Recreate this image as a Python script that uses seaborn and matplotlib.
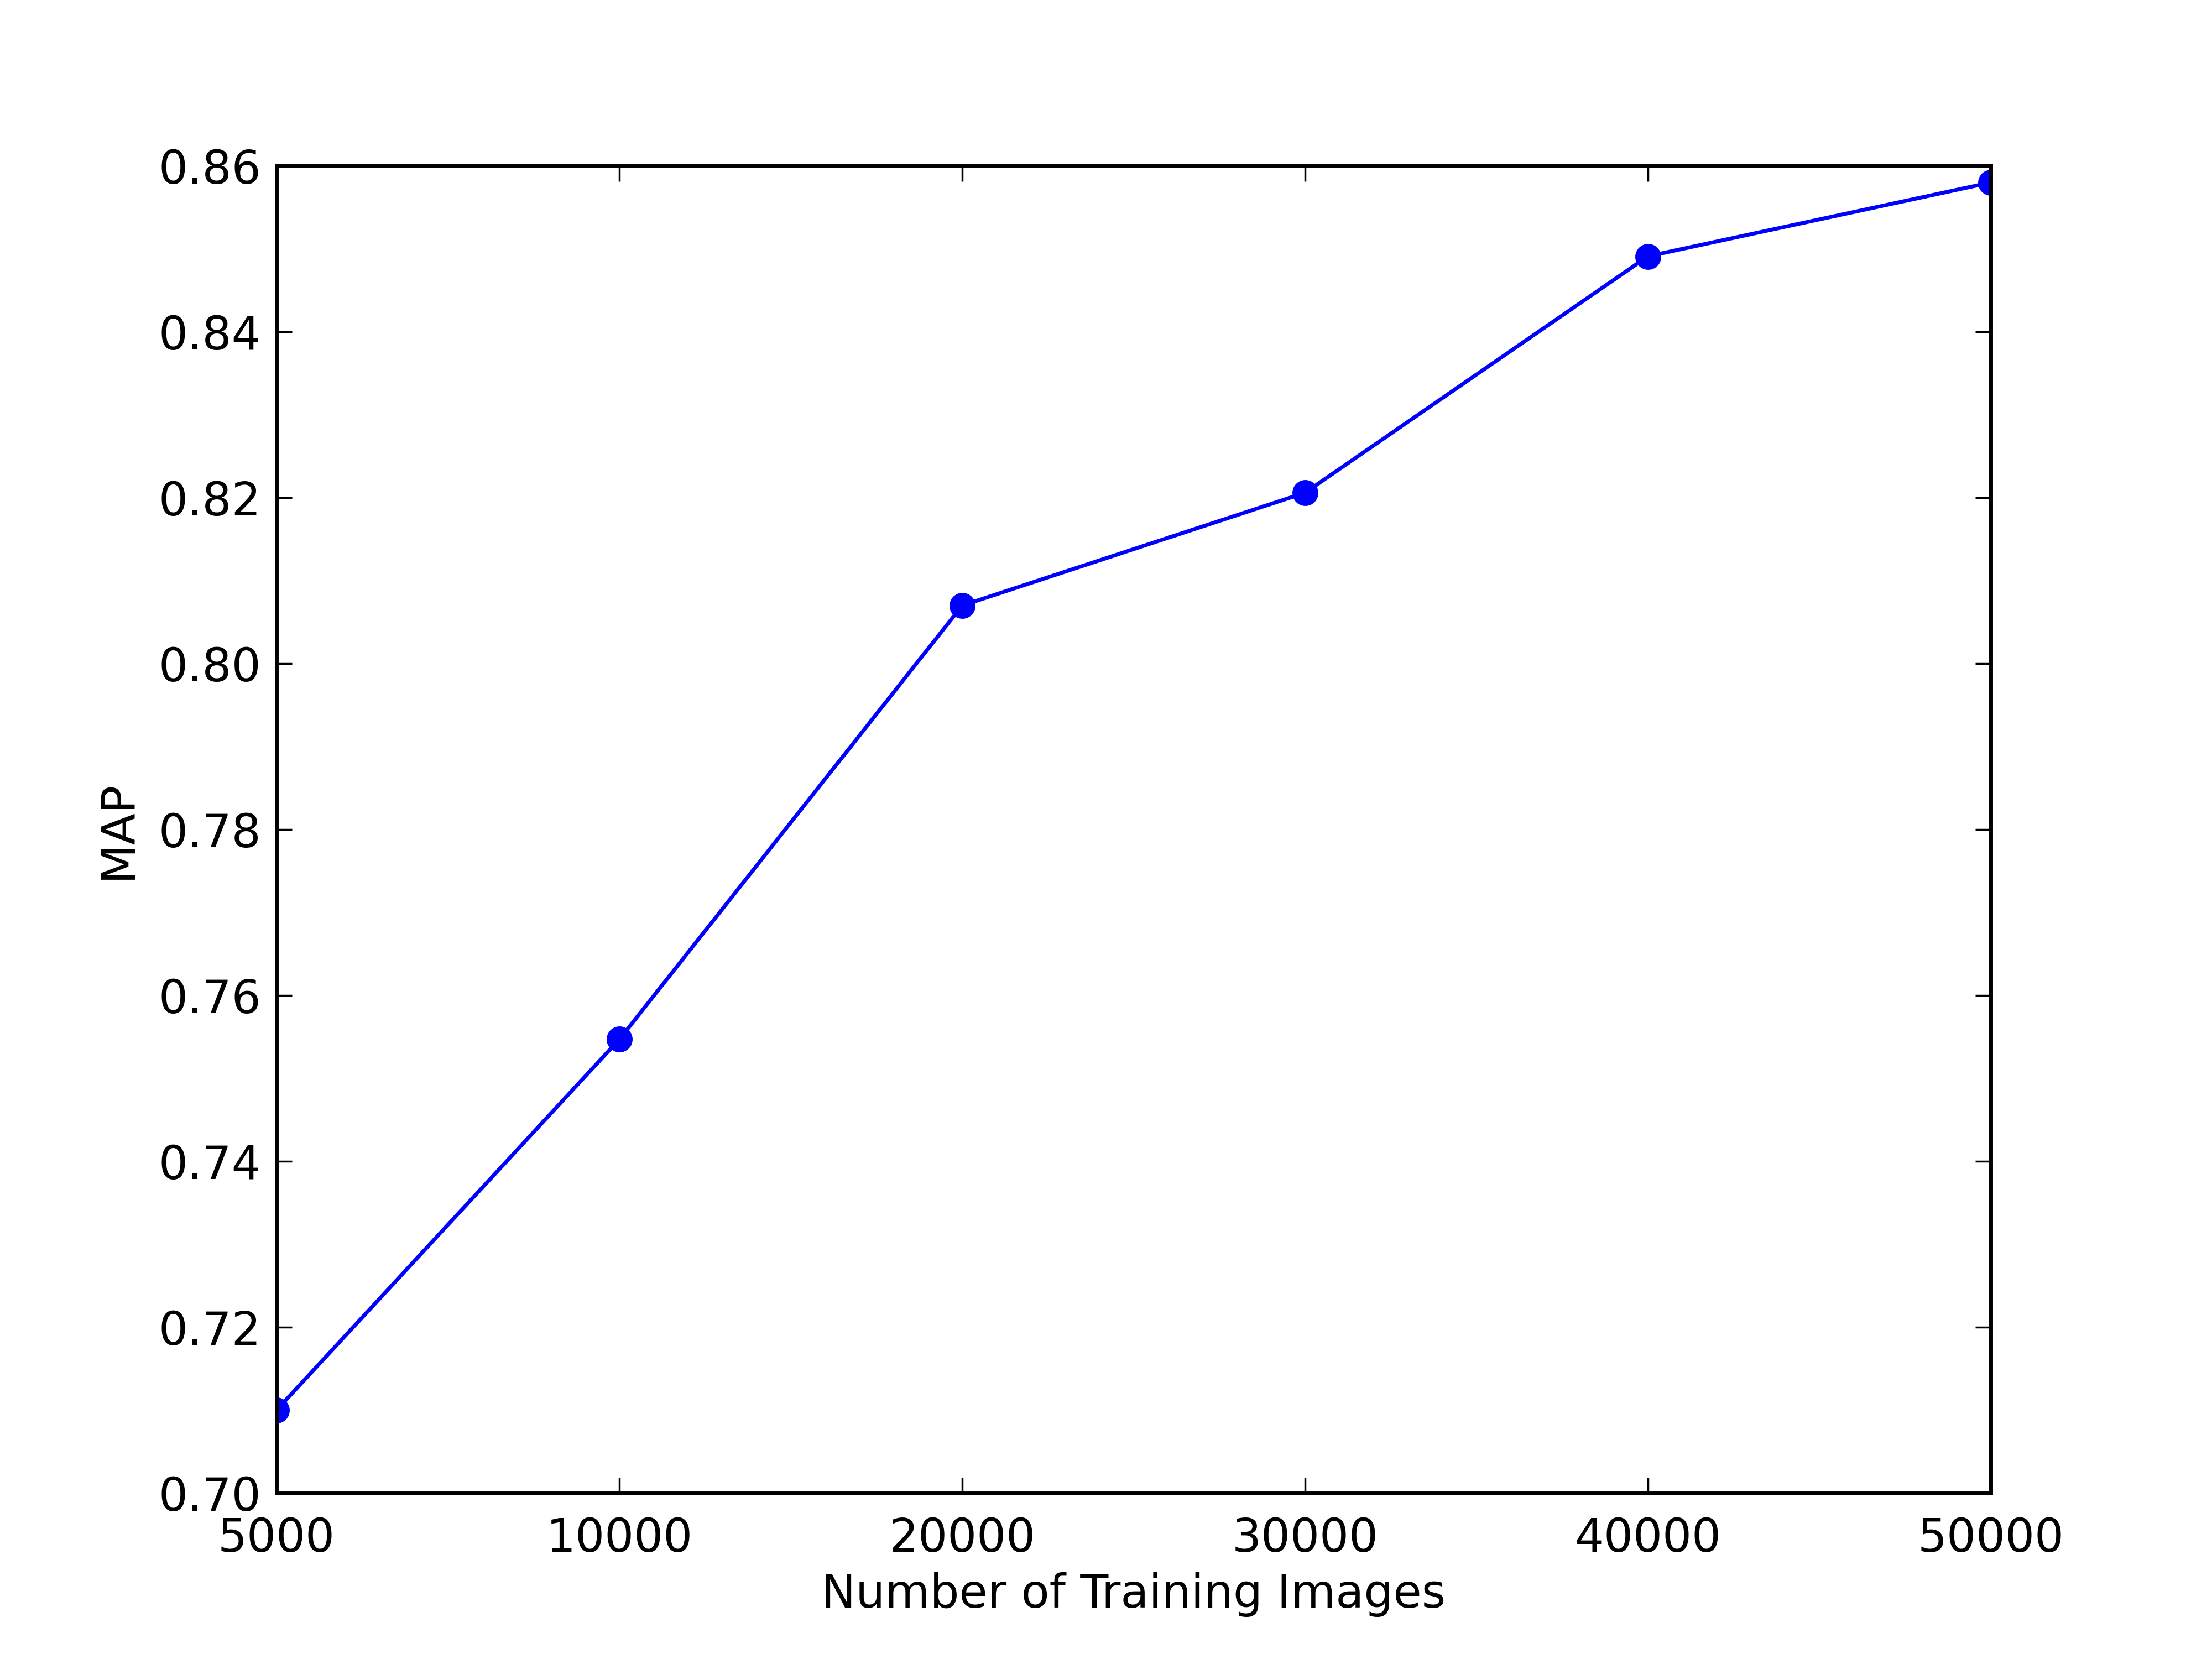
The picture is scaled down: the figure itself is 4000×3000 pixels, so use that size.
import matplotlib
matplotlib.use("Agg")
import matplotlib.pyplot as plt
import seaborn as sns
import pandas as pd

categories = ["5000", "10000", "20000", "30000", "40000", "50000"]
map_values = [0.710, 0.7547, 0.8070, 0.8206, 0.8491, 0.8580]
y_ticks = [0.70, 0.72, 0.74, 0.76, 0.78, 0.80, 0.82, 0.84, 0.86]

sns.set_style("ticks", {
    "xtick.direction": "in", "ytick.direction": "in",
    "axes.edgecolor": "black",
})
plt.rcParams["font.family"] = ["DejaVu Sans"]
plt.rcParams["font.size"] = 12

df = pd.DataFrame({"pos": range(len(categories)), "MAP": map_values})

fig = plt.figure(figsize=(8, 6), dpi=500)
ax = fig.add_axes([0.125, 0.1, 0.775, 0.8])
sns.lineplot(data=df, x="pos", y="MAP", ax=ax, color="blue", linewidth=1.0,
             marker="o", markersize=6, markeredgecolor="blue", clip_on=True)
ax.set_xlim(0, len(categories) - 1)
ax.set_ylim(0.70, 0.86)
ax.set_xticks(range(len(categories)))
ax.set_xticklabels(categories)
ax.set_yticks(y_ticks)
ax.set_yticklabels([f"{v:.2f}" for v in y_ticks])
ax.tick_params(axis="both", which="both", direction="in", top=True, right=True,
               length=4, width=0.5, labelsize=12, color="black", labelcolor="black")
ax.tick_params(axis="x", pad=6)
ax.tick_params(axis="y", pad=4)
for s in ax.spines.values():
    s.set_linewidth(1.0)
    s.set_color("black")
    s.set_visible(True)
ax.set_xlabel("Number of Training Images", fontsize=12, color="black", labelpad=3)
ax.set_ylabel("MAP", fontsize=12, color="black", labelpad=4.7)
ax.grid(False)
fig.savefig("out.png", dpi=500, facecolor="white")
